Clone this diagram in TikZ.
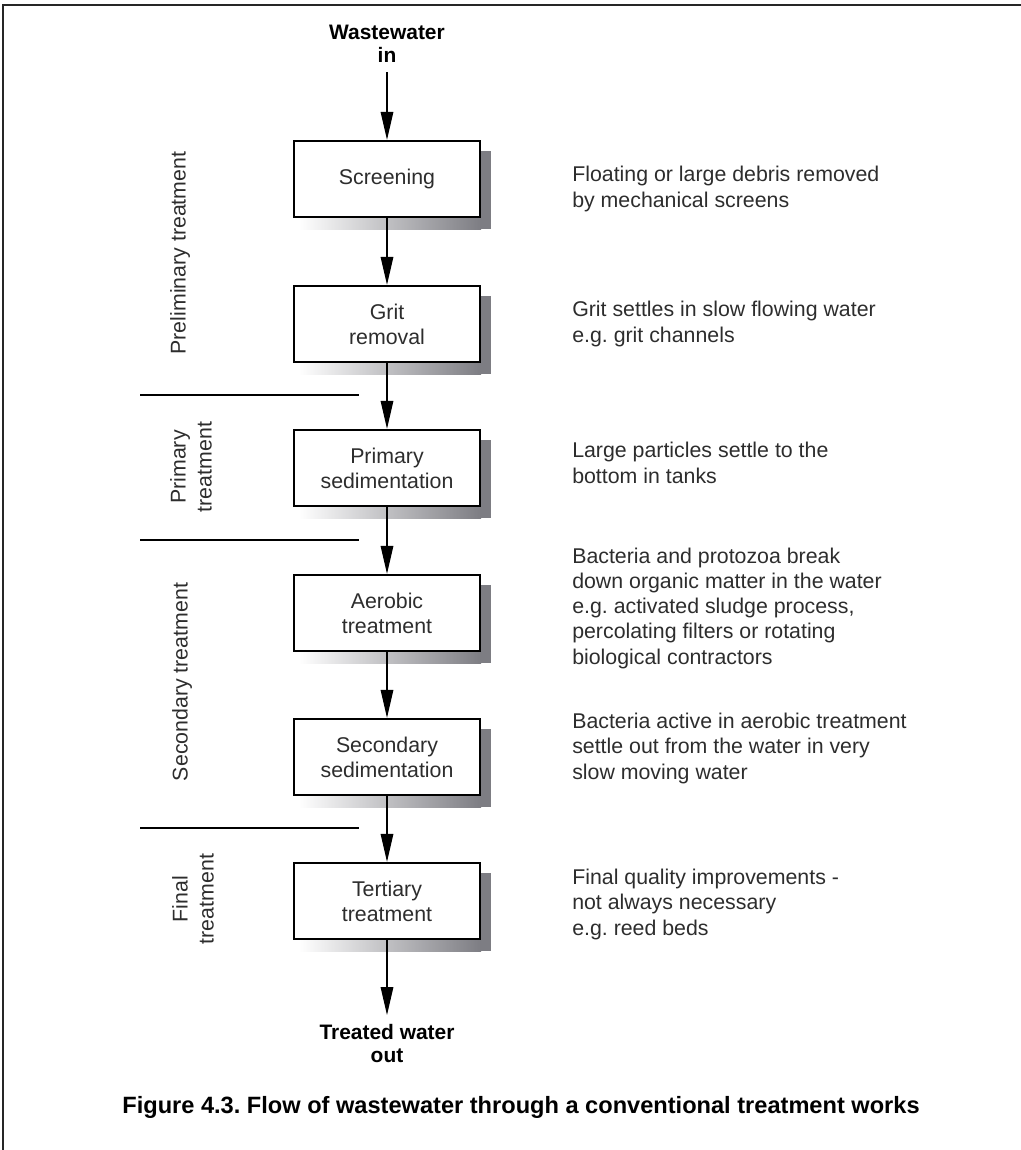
\documentclass[tikz,border=0pt]{standalone}
\usepackage{fontspec}
\setmainfont{Liberation Sans}
\usetikzlibrary{arrows.meta,backgrounds}
\definecolor{shad}{RGB}{125,125,131}
\definecolor{txt}{RGB}{45,45,45}
\frenchspacing
\begin{document}
\frenchspacing
\begin{tikzpicture}[x=0.75pt,y=-0.75pt,
  stage/.style={draw=black,line width=1.8pt,fill=white,minimum width=139.5pt,minimum height=57pt,
    inner sep=0pt,align=center,font=\fontsize{16}{18.75}\selectfont,text=txt},
  note/.style={anchor=base west,align=left,inner sep=0pt,font=\fontsize{16}{18.9}\selectfont,text=txt},
  side/.style={rotate=90,align=center,inner sep=0pt,font=\fontsize{16}{19.5}\selectfont,text=txt},
  io/.style={align=center,inner sep=6.75pt,font=\fontsize{15.7}{17.5}\selectfont\bfseries},
  flow/.style={line width=0.8pt,-{Triangle[length=21pt,width=9.5pt]}},
  divider/.style={line width=2.1pt},
  frame/.style={line width=1.6pt,draw=black!85},
]
\useasboundingbox (0,0) rectangle (1021,1150);
% frame
\draw[frame] (3,1150) -- (3,5) -- (1021,5);

% stages
\node[stage] (s1) at (387,179) {Screening};
\node[stage] (s2) at (387,324) {Grit\\removal};
\node[stage] (s3) at (387,468) {Primary\\sedimentation};
\node[stage] (s4) at (387,613) {Aerobic\\treatment};
\node[stage] (s5) at (387,757) {Secondary\\sedimentation};
\node[stage] (s6) at (387,901) {Tertiary\\treatment};

% shadows
\begin{scope}[on background layer]
\foreach \n in {s1,s2,s3,s4,s5,s6}{
  \shade[left color=white,right color=shad] ([shift={(6,0)}]\n.south west) rectangle ([shift={(0,11)}]\n.south east);
  \fill[shad] ([shift={(-1,11)}]\n.north east) rectangle ([shift={(10,11)}]\n.south east);
}
\end{scope}

% in / out
\node[io,anchor=south] (win) at (387,72) {Wastewater\\in};
\node[io,anchor=north] (wout) at (387,1015) {Treated water\\out};

% flow arrows
\draw[flow] (win) -- (s1);
\draw[flow] (s1) -- (s2);
\draw[flow] (s2) -- (s3);
\draw[flow] (s3) -- (s4);
\draw[flow] (s4) -- (s5);
\draw[flow] (s5) -- (s6);
\draw[flow] (s6) -- (wout);

% dividers
\draw[divider] (140,395) -- (359,395);
\draw[divider] (140,540) -- (359,540);
\draw[divider] (140,828) -- (359,828);

% side labels
\node[side] (l1) at (180,253) {Preliminary treatment};
\node[side] (l2) at (191,467) {Primary\\treatment};
\node[side] (l3) at (182,682) {Secondary treatment};
\node[side] (l4) at (193,899) {Final\\treatment};

% notes (anchored at the baseline of their last line)
\node[note] (n1) at (572,207) {Floating or large debris removed\\by mechanical screens};
\node[note] (n2) at (572,342) {Grit settles in slow flowing water\\e.g. grit channels};
\node[note] (n3) at (572,483) {Large particles settle to the\\bottom in tanks};
\node[note] (n4) at (572,664) {Bacteria and protozoa break\\down organic matter in the water\\e.g. activated sludge process,\\percolating filters or rotating\\biological contractors};
\node[note] (n5) at (572,779) {Bacteria active in aerobic treatment\\settle out from the water in very\\slow moving water};
\node[note] (n6) at (572,935) {Final quality improvements -\\not always necessary\\e.g. reed beds};

% caption
\node[anchor=base,inner sep=0pt,font=\fontsize{17.7}{20}\selectfont\bfseries] (cap) at (521,1113)
  {Figure 4.3. Flow of wastewater through a conventional treatment works};
\end{tikzpicture}
\end{document}
